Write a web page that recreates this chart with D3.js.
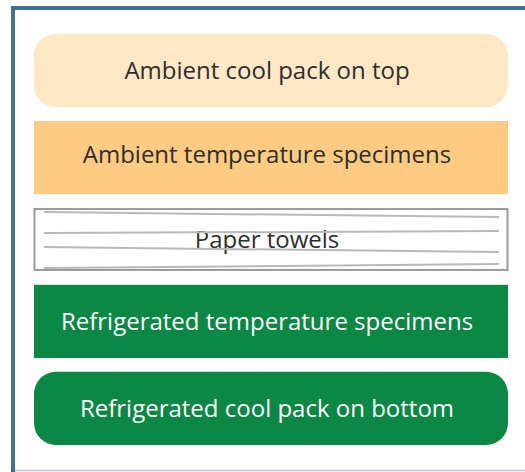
<!DOCTYPE html>
<html>
<head>
<meta charset="utf-8">
<script src="https://cdn.jsdelivr.net/npm/d3@7"></script>
<style>
  body { margin: 0; background: #fff; }
  svg { display: block; }
</style>
</head>
<body>
<div id="chart"></div>
<script>
// layers of the shipping box, top to bottom
const layers = [
  "Ambient cool pack on top",
  "Ambient temperature specimens",
  "Paper towels",
  "Refrigerated temperature specimens",
  "Refrigerated cool pack on bottom",
];
const kinds = ["pack", "specimen", "towel", "specimen", "pack"];
const thickness = [1, 1, 0.86, 1, 1];
const fills = ["#fee8c6", "#fdcc80", "#ffffff", "#0b8843", "#0b8843"];
const textColors = ["#2e2e2e", "#2e2e2e", "#2e2e2e", "#ffffff", "#ffffff"];

const width = 525,
  height = 472;
const gap = 0.19;

const svg = d3
  .select("#chart")
  .append("svg")
  .attr("width", width)
  .attr("height", height);

// frame
svg
  .append("path")
  .attr("d", "M13,472 V8 H525")
  .attr("fill", "none")
  .attr("stroke", "#3e7292")
  .attr("stroke-width", 4);
svg
  .append("line")
  .attr("x1", 15)
  .attr("x2", width)
  .attr("y1", 470.5)
  .attr("y2", 470.5)
  .attr("stroke", "#b8c8d6")
  .attr("stroke-width", 1.5);

// stack the layers
let acc = 0;
const stack = layers.map((d, i) => {
  const s = { label: d, kind: kinds[i], i: i, y0: acc, y1: acc + thickness[i] };
  acc += thickness[i] + gap;
  return s;
});
const total = acc - gap;

const y = d3.scaleLinear().domain([0, total]).range([34, 445]);
const x = d3.scaleLinear().domain([0, 1]).range([34, 508]);

const g = svg
  .selectAll("g.layer")
  .data(stack)
  .join("g")
  .attr("class", "layer");

g.append("rect")
  .attr("x", (d) => (d.kind === "towel" ? x(0) + 0.5 : x(0)))
  .attr("y", (d) => (d.kind === "towel" ? y(d.y0) + 1 : y(d.y0)))
  .attr("width", (d) => (d.kind === "towel" ? x(1) - x(0) - 1 : x(1) - x(0)))
  .attr("height", (d) =>
    d.kind === "towel" ? y(d.y1) - y(d.y0) - 2 : y(d.y1) - y(d.y0)
  )
  .attr("rx", (d) => (d.kind === "pack" ? 22 : 0))
  .attr("fill", (d) => fills[d.i])
  .attr("stroke", (d) => (d.kind === "towel" ? "#9a9a9a" : "none"))
  .attr("stroke-width", 2);

// paper towel sheets
const towel = stack.find((d) => d.kind === "towel");
const ty = y(towel.y0);
const sheets = [
  [4, 9],
  [25, 23],
  [39, 44],
  [60, 56],
];
svg
  .selectAll("line.sheet")
  .data(sheets)
  .join("line")
  .attr("class", "sheet")
  .attr("x1", 44)
  .attr("x2", 499)
  .attr("y1", (d) => ty + d[0])
  .attr("y2", (d) => ty + d[1])
  .attr("stroke", "#b9b9b9")
  .attr("stroke-width", 2);

g.append("text")
  .attr("x", 267)
  .attr("y", (d) => (y(d.y0) + y(d.y1)) / 2 - (d.kind === "specimen" && d.i < 2 ? 3 : 0))
  .attr("dy", "0.36em")
  .attr("text-anchor", "middle")
  .attr("fill", (d) => textColors[d.i])
  .style("font-family", "'Open Sans', sans-serif")
  .style("font-size", "24px")
  .text((d) => d.label);
</script>
</body>
</html>
